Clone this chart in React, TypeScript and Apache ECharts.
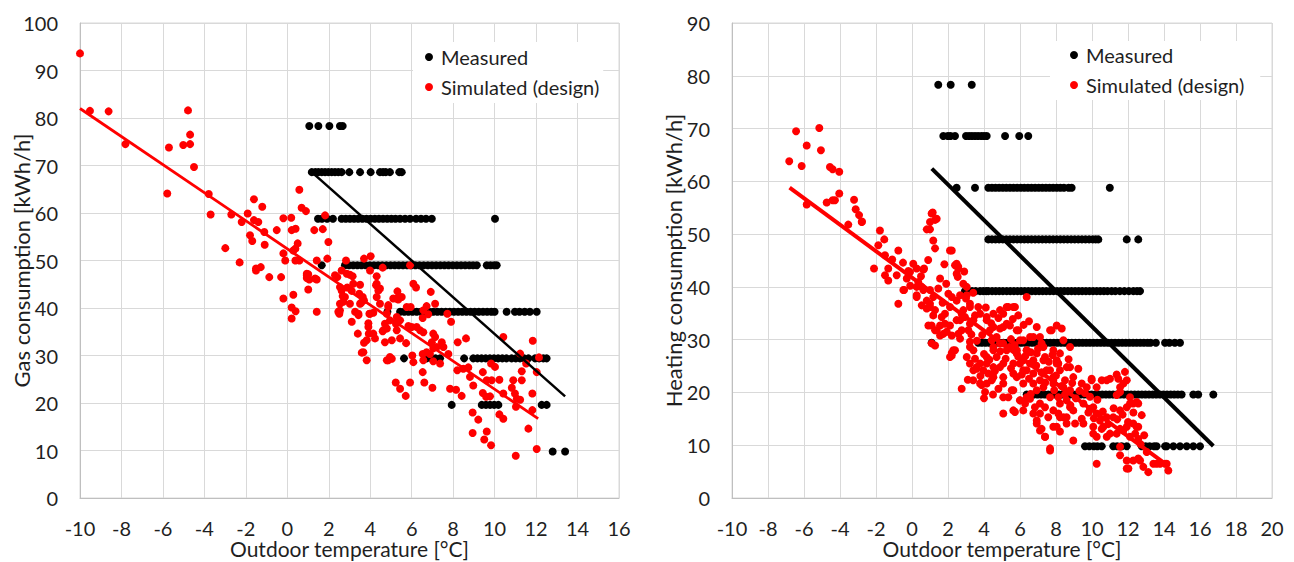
import React, { useEffect, useRef } from "react";
import * as echarts from "echarts";

const FONT = "Lato, 'Open Sans', sans-serif";

// Measured consumption levels (kWh/h) – measured data fall on discrete steps
const LEVELS = [78.3, 68.6, 58.8, 49.0, 39.2, 29.4, 19.6, 9.8];

// ---------- Left chart: Gas consumption ----------
const gasMeasuredTemps: number[][] = [
  [1.06, 1.5, 2.03, 2.54, 2.67],
  [1.18, 1.35, 1.5, 1.66, 1.82, 1.98, 2.14, 2.3, 2.46, 2.62, 2.99, 3.51, 4.02, 4.47, 4.62, 4.75, 4.95, 5.4, 5.52],
  [1.48, 1.67, 1.92, 2.2, 2.62, 2.82, 3.02, 3.22, 3.42, 3.62, 3.82, 4.02, 4.22, 4.42, 4.62, 4.82, 5.02, 5.22, 5.44, 5.68, 5.92, 6.21, 6.45, 6.69, 6.97, 10.02],
  [1.66, 2.78, 2.98, 3.18, 3.38, 3.58, 3.78, 3.98, 4.18, 4.38, 4.58, 4.78, 4.98, 5.18, 5.38, 5.58, 5.78, 5.98, 6.18, 6.38, 6.58, 6.78, 6.98, 7.18, 7.38, 7.58, 7.78, 7.98, 8.18, 8.38, 8.58, 8.78, 8.96, 9.14, 9.62, 9.8, 9.98, 10.1],
  [4.83, 5.44, 5.64, 5.84, 6.04, 6.24, 6.44, 6.64, 6.84, 7.04, 7.24, 7.44, 7.64, 7.84, 8.04, 8.24, 8.44, 8.64, 8.84, 9.04, 9.24, 9.44, 9.64, 9.84, 10.0, 10.58, 10.98, 11.2, 11.45, 11.7, 12.03],
  [5.63, 6.72, 6.95, 7.15, 7.37, 8.53, 8.97, 9.17, 9.37, 9.57, 9.77, 9.97, 10.17, 10.37, 10.57, 10.82, 11.02, 11.22, 11.42, 11.63, 11.95, 12.15, 12.35, 12.51],
  [7.93, 9.38, 9.58, 9.78, 9.98, 10.18, 12.27, 12.51],
  [12.8, 13.4],
];

const gasSimulated: number[][] = [
  [-10.0, 93.6], [-9.52, 81.5], [-8.62, 81.4], [-7.81, 74.5], [-5.71, 73.8], [-5.79, 64.1], [-5.02, 74.3], [-4.79, 81.6],
  [-4.69, 76.5], [-4.69, 74.5], [-4.5, 69.7], [-3.79, 64.0], [-3.7, 59.7], [-2.7, 59.7], [-2.99, 52.6], [-2.2, 58.1],
  [-1.91, 59.9], [-2.3, 49.6], [-1.61, 62.9], [-1.21, 61.3], [-1.8, 55.3], [-1.69, 54.1], [-1.61, 58.5], [-1.4, 58.1],
  [-1.11, 56.0], [-1.09, 53.3], [-1.51, 48.3], [-1.28, 48.6], [-0.51, 56.4], [-0.19, 58.9], [-0.19, 51.5], [-0.1, 50.0],
  [0.19, 59.0], [0.21, 56.4], [0.4, 56.7], [0.58, 64.9], [0.69, 61.1], [0.9, 60.4], [0.39, 52.5], [0.5, 53.6],
  [0.39, 50.0], [0.58, 50.0], [1.3, 56.4], [1.71, 56.6], [1.82, 59.5], [1.42, 50.0], [1.93, 50.4], [1.98, 53.9],
  [0.94, 47.2], [-0.87, 46.5], [-0.3, 46.5], [-1.51, 47.9], [1.01, 47.1], [1.06, 46.0], [1.42, 46.0], [-0.19, 42.0],
  [0.29, 42.8], [0.21, 40.1], [0.4, 39.3], [0.21, 37.8], [1.01, 43.9], [1.42, 39.2], [0.29, 52.1], [0.94, 46.3],
  [2.41, 46.5], [2.62, 47.9], [2.83, 50.0], [2.87, 47.2], [3.02, 47.0], [3.15, 46.7], [2.62, 43.7], [2.67, 42.5],
  [2.7, 41.3], [2.54, 39.5], [2.51, 38.8], [2.89, 44.3], [3.11, 43.6], [3.02, 40.9], [3.11, 37.1], [3.27, 39.2],
  [3.43, 38.5], [3.4, 34.6], [3.51, 44.9], [3.47, 43.0], [3.64, 42.3], [3.56, 41.1], [3.7, 41.6], [3.59, 30.6],
  [3.83, 29.0], [3.7, 32.7], [3.83, 33.2], [3.93, 34.6], [4.15, 34.6], [4.23, 33.6], [3.7, 50.4], [4.02, 50.9],
  [3.99, 47.9], [4.31, 46.7], [4.28, 44.8], [4.39, 43.7], [4.31, 42.3], [4.47, 44.1], [3.96, 38.8], [3.91, 36.8],
  [4.15, 39.0], [4.6, 48.5], [4.71, 36.7], [4.6, 35.1], [4.71, 32.8], [4.8, 29.0], [4.8, 38.8],
  [5.92, 49.0], [6.08, 45.1], [6.21, 44.3], [6.92, 43.4], [7.13, 40.9], [6.72, 40.4], [6.56, 39.5], [5.31, 43.5],
  [5.11, 42.0], [5.35, 41.8], [5.52, 42.3], [4.87, 40.6], [5.76, 40.2], [5.95, 40.2], [6.8, 38.7], [6.53, 37.9],
  [7.72, 38.8], [7.9, 37.1], [5.28, 38.1], [5.24, 36.7], [5.44, 37.4], [4.63, 35.3], [5.84, 36.2], [6.0, 36.0],
  [6.24, 36.0], [6.4, 35.3], [6.56, 34.9], [7.04, 34.6], [7.13, 33.9], [6.97, 32.8], [7.04, 31.5], [7.45, 32.8],
  [7.53, 31.8], [8.22, 32.8], [8.62, 33.6], [5.04, 33.2], [5.44, 33.6], [5.73, 32.6], [4.95, 29.7], [6.03, 30.0],
  [6.08, 28.6], [6.53, 30.3], [6.72, 30.7], [6.88, 30.3], [7.21, 31.8], [6.56, 29.0], [7.37, 28.3], [7.77, 30.3],
  [8.2, 26.9], [8.49, 27.2], [8.73, 27.5], [6.53, 26.5], [7.04, 28.8], [8.81, 25.5], [8.97, 23.7], [9.43, 26.5],
  [9.83, 28.3], [10.02, 27.6], [9.62, 24.8], [9.86, 24.8], [10.23, 24.9], [7.85, 23.0], [8.14, 22.8], [8.41, 21.5],
  [9.43, 22.1], [9.59, 21.3], [9.78, 21.4], [10.42, 22.0], [10.83, 23.2], [10.9, 24.8], [11.31, 24.8], [10.98, 22.0],
  [11.07, 20.9], [11.23, 20.7], [11.03, 19.2], [11.82, 22.0], [10.42, 33.9], [11.23, 30.4], [11.52, 28.3], [11.84, 33.1],
  [12.14, 29.6], [12.03, 26.5], [11.31, 26.7], [5.23, 24.3], [5.44, 23.0], [5.71, 21.5], [5.92, 24.3], [6.61, 24.3],
  [7.0, 23.2], [8.94, 18.0], [9.21, 16.5], [10.23, 17.6], [10.42, 16.7], [11.82, 18.5], [8.94, 13.7], [9.62, 14.0],
  [9.5, 12.3], [9.83, 11.1], [11.63, 14.6], [11.02, 8.9], [12.03, 10.3], [2.46, 39.2], [3.67, 30.7], [4.87, 29.0],
  [5.04, 29.3], [0.94, 46.9], [1.34, 46.2], [2.3, 46.9], [2.54, 44.4], [2.78, 42.3], [2.54, 40.9], [3.18, 45.1],
  [3.51, 40.9], [3.43, 38.8], [3.91, 36.0], [3.99, 38.8], [4.31, 45.1], [4.47, 40.9], [4.87, 40.2], [4.95, 37.4],
  [4.8, 35.7], [5.28, 42.0], [5.28, 35.3],
];

const gasMeasuredTrend = [[1.18, 68.6], [13.4, 21.4]];
const gasSimulatedTrend = [[-10.0, 82.0], [12.1, 16.7]];

// ---------- Right chart: Heating consumption ----------
const heatMeasuredTemps: number[][] = [
  [1.46, 2.15, 3.32],
  [1.74, 1.99, 2.14, 2.39, 3.0, 3.17, 3.33, 3.5, 3.67, 3.85, 4.0, 4.15, 5.17, 5.96, 6.46],
  [2.48, 3.5, 4.24, 4.44, 4.64, 4.84, 5.04, 5.24, 5.44, 5.64, 5.84, 6.04, 6.24, 6.44, 6.64, 6.84, 7.04, 7.24, 7.44, 7.64, 7.84, 8.04, 8.24, 8.44, 8.7, 8.87, 10.99],
  [4.24, 4.44, 4.64, 4.84, 5.04, 5.24, 5.44, 5.64, 5.84, 6.04, 6.24, 6.44, 6.64, 6.84, 7.04, 7.24, 7.44, 7.64, 7.84, 8.04, 8.24, 8.44, 8.64, 8.84, 9.04, 9.24, 9.44, 9.64, 9.84, 10.04, 10.2, 10.35, 11.93, 12.57],
  [2.94, 3.14, 3.34, 3.54, 3.78, 3.96, 4.12, 4.24, 4.45, 4.65, 4.85, 5.05, 5.26, 5.46, 5.66, 5.86, 6.06, 6.26, 6.46, 6.66, 6.86, 7.06, 7.26, 7.46, 7.66, 7.86, 8.06, 8.26, 8.46, 8.66, 8.86, 9.06, 9.26, 9.46, 9.66, 9.86, 10.06, 10.26, 10.46, 10.66, 10.86, 11.09, 11.3, 11.55, 11.8, 12.05, 12.3, 12.5, 12.67],
  [1.09, 3.68, 3.88, 4.08, 4.28, 4.48, 4.68, 4.88, 5.08, 5.28, 5.48, 5.68, 5.88, 6.08, 6.28, 6.48, 6.68, 6.88, 7.08, 7.28, 7.48, 7.68, 7.88, 8.08, 8.28, 8.48, 8.68, 8.88, 9.08, 9.28, 9.48, 9.68, 9.88, 10.08, 10.28, 10.48, 10.68, 10.88, 11.08, 11.28, 11.48, 11.68, 11.88, 12.08, 12.28, 12.48, 12.68, 12.88, 13.08, 13.25, 13.55, 14.06, 14.3, 14.6, 14.89],
  [6.37, 6.57, 6.77, 6.97, 7.17, 7.37, 7.57, 7.77, 7.97, 8.17, 8.37, 8.57, 8.77, 8.97, 9.17, 9.37, 9.57, 9.77, 9.97, 10.17, 10.37, 10.57, 10.77, 10.97, 11.17, 11.37, 11.57, 11.77, 11.97, 12.17, 12.37, 12.57, 12.77, 12.97, 13.17, 13.37, 13.57, 13.77, 13.97, 14.17, 14.37, 14.57, 14.77, 14.98, 15.63, 15.9, 16.74],
  [9.61, 9.85, 10.1, 10.3, 10.54, 11.18, 11.4, 11.65, 11.93, 12.76, 12.98, 13.2, 13.45, 13.59, 14.06, 14.15, 14.52, 14.89, 15.26, 15.63, 16.0],
];

const heatSimulated: number[][] = [
  [-6.82, 63.8], [-6.44, 69.5], [-6.13, 62.9], [-5.85, 66.8], [-5.85, 55.6], [-5.15, 70.1], [-5.06, 65.9], [-4.56, 62.7],
  [-4.41, 62.3], [-4.04, 61.8], [-4.74, 56.0], [-4.41, 56.4], [-4.28, 56.4], [-4.04, 57.7], [-3.22, 56.5], [-3.13, 54.7],
  [-2.94, 53.6], [-2.78, 52.4], [-3.54, 51.8], [-1.78, 50.7], [-1.54, 49.0], [-1.87, 47.9], [-0.76, 46.9], [-1.5, 46.0],
  [-2.11, 43.5], [-1.32, 43.5], [-0.85, 42.2], [0.07, 44.4], [0.26, 43.5], [0.67, 43.5], [-0.2, 43.0], [1.15, 54.1],
  [1.28, 52.7], [1.0, 50.9], [1.18, 48.8], [1.28, 47.3], [0.82, 50.9], [2.21, 46.9], [2.39, 44.1], [2.57, 43.8],
  [2.48, 42.5], [-2.79, 52.3], [-1.5, 42.2], [-1.32, 41.2], [-0.48, 39.4], [-0.76, 36.8], [-0.29, 41.6], [-0.11, 42.8],
  [0.63, 43.3], [0.35, 40.9], [0.54, 40.0], [0.26, 38.4], [0.54, 36.5], [0.82, 37.4], [1.0, 39.4], [1.18, 38.1],
  [1.46, 39.7], [1.56, 41.6], [1.0, 52.3], [1.09, 53.9], [1.37, 52.9], [1.0, 36.2], [1.28, 35.6], [1.09, 32.7],
  [1.37, 31.8], [1.56, 32.7], [1.65, 34.3], [1.83, 34.9], [2.11, 36.2], [2.02, 38.7], [2.21, 38.1], [2.48, 37.4],
  [2.11, 46.9], [2.48, 44.4], [2.57, 43.5], [2.54, 41.9], [2.67, 38.4], [3.04, 40.0], [3.22, 36.8], [2.85, 35.6],
  [1.83, 33.0], [1.93, 31.5], [1.56, 30.8], [2.67, 33.7], [2.94, 34.3], [3.22, 33.0], [3.5, 34.6], [3.68, 36.2],
  [2.57, 31.1], [2.67, 30.2], [3.13, 31.8], [3.22, 29.6], [2.29, 28.0], [2.11, 26.7], [2.21, 27.5], [3.04, 26.7],
  [3.22, 25.5], [3.59, 24.5], [3.41, 28.0], [2.76, 20.7], [3.87, 21.4], [4.06, 20.1], [4.15, 34.3], [4.33, 31.8],
  [4.43, 29.9], [4.52, 28.0], [4.15, 25.5], [4.24, 23.6], [4.43, 22.3], [4.7, 26.7], [4.89, 24.8], [4.7, 30.5],
  [4.89, 32.1], [5.07, 29.3], [5.26, 28.0], [5.07, 34.9], [5.35, 36.2], [5.72, 36.2], [5.26, 33.0], [5.07, 21.7],
  [4.8, 20.7], [5.54, 20.4], [5.35, 19.1], [5.07, 16.0], [5.72, 16.3], [6.37, 38.1], [5.91, 31.8], [6.18, 29.9],
  [5.82, 27.4], [6.0, 25.5], [6.37, 28.0], [6.56, 25.5], [6.74, 30.5], [6.93, 32.4], [7.2, 29.3], [7.39, 26.7],
  [7.48, 24.2], [7.11, 22.3], [6.74, 21.7], [6.37, 24.2], [6.18, 21.7], [5.82, 22.9], [6.0, 18.5], [6.28, 17.9],
  [6.56, 18.8], [6.83, 17.2], [7.11, 16.0], [7.39, 17.2], [7.57, 15.3], [6.93, 14.7], [7.2, 13.1], [7.39, 11.6],
  [7.67, 9.4], [7.76, 31.8], [8.04, 32.7], [7.85, 28.0], [8.13, 25.5], [7.85, 22.3], [8.13, 19.1], [7.85, 16.6],
  [-0.44, 39.4], [0.26, 40.0], [0.63, 39.4], [0.26, 38.1], [1.0, 36.8], [0.82, 35.9], [1.18, 34.6], [0.91, 32.7],
  [1.28, 31.8], [1.74, 31.1], [2.11, 32.7], [2.21, 30.8], [2.48, 33.7], [2.76, 31.8], [1.28, 28.9], [2.21, 27.0],
  [2.39, 28.0], [3.22, 28.6], [3.5, 26.4], [3.59, 24.8], [3.78, 21.7], [1.09, 29.3],
  [2.85, 40.6], [3.04, 38.4], [3.22, 36.2], [2.76, 34.9], [3.41, 33.7], [3.78, 34.9], [4.15, 33.7], [4.52, 34.9],
  [4.89, 35.6], [5.26, 36.2], [5.63, 36.2], [4.52, 32.4], [5.07, 32.4], [5.44, 32.7], [5.82, 31.8], [6.0, 29.9],
  [6.56, 30.5], [7.11, 30.5], [7.3, 28.6], [6.93, 27.4], [6.37, 28.0], [5.82, 28.0], [5.44, 28.6], [4.89, 29.3],
  [4.52, 28.6], [4.15, 26.7], [3.78, 25.5], [3.41, 24.2], [3.96, 24.2], [4.52, 24.8], [5.07, 25.5], [5.63, 25.5],
  [6.18, 26.1], [6.74, 26.1], [7.3, 26.1], [7.67, 24.2], [7.3, 23.6], [6.74, 23.6], [6.18, 24.2], [5.63, 23.6],
  [5.07, 22.9], [4.52, 22.9], [4.15, 21.7], [5.07, 19.1], [5.63, 20.4], [6.0, 18.5], [6.37, 19.1], [6.93, 20.4],
  [7.3, 21.0], [7.85, 21.7], [7.11, 17.9], [7.67, 19.1], [6.93, 14.1], [7.11, 12.8], [7.39, 11.6], [7.67, 9.0],
  [8.04, 13.5], [8.22, 15.3], [8.59, 14.1], [6.74, 16.0], [6.18, 16.6], [5.63, 16.6],
  [8.32, 32.1], [7.67, 31.8], [8.41, 29.9], [8.78, 28.6], [8.6, 24.8], [9.24, 24.5], [8.96, 22.9], [8.5, 22.3],
  [8.22, 27.4], [8.04, 25.5], [7.85, 22.9], [8.41, 21.0], [8.78, 20.4], [8.59, 18.5], [8.22, 17.9], [8.13, 16.0],
  [8.59, 15.3], [8.96, 16.6], [9.06, 14.1], [9.43, 15.0], [9.52, 17.9], [9.89, 19.2], [9.71, 21.0], [9.98, 22.3],
  [10.26, 21.0], [10.54, 22.3], [10.82, 22.3], [11.46, 22.6], [11.83, 23.9], [11.74, 21.7], [11.56, 20.1], [11.37, 19.5],
  [10.07, 17.2], [10.26, 16.0], [10.07, 13.5], [10.63, 13.5], [10.82, 15.3], [11.18, 15.3], [11.56, 16.6], [11.93, 17.2],
  [12.11, 17.9], [12.29, 17.9], [12.48, 18.2], [12.76, 15.7], [12.57, 13.5], [12.29, 14.1], [11.93, 13.5], [11.56, 13.1],
  [11.37, 12.2], [10.82, 11.6], [10.26, 11.6], [10.26, 6.5], [11.56, 9.7], [11.93, 7.1], [12.02, 5.6], [12.29, 7.1],
  [12.67, 7.1], [12.85, 5.9], [13.13, 4.9], [13.41, 6.5], [13.78, 6.5], [14.15, 6.5], [14.24, 5.2], [13.04, 8.7],
  [8.04, 26.1], [8.22, 24.2], [8.78, 24.8], [9.43, 21.7], [9.98, 22.6], [11.0, 22.6], [11.37, 23.4], [11.93, 22.3],
  [11.56, 21.0], [12.11, 19.1], [12.57, 17.9], [12.48, 13.5], [12.57, 11.2], [12.11, 11.6], [11.74, 12.8], [11.0, 12.2],
  [10.54, 13.1], [10.07, 12.2], [10.44, 14.7], [9.89, 16.9], [9.52, 14.1], [8.96, 10.9], [8.22, 12.6], [7.85, 13.5],
  [8.41, 15.3], [8.78, 17.2], [11.93, 5.6], [13.59, 6.5], [12.57, 7.5], [11.56, 8.1], [14.06, 6.5],
  [3.3, 31.0], [3.6, 29.8], [3.9, 30.9], [4.0, 27.3], [4.3, 26.2], [3.8, 23.1], [4.6, 24.0], [4.9, 27.8],
  [5.2, 26.4], [5.5, 24.6], [5.5, 30.1], [5.7, 29.0], [5.9, 26.8], [6.1, 23.4], [6.3, 26.9], [6.5, 22.6],
  [6.6, 27.6], [6.9, 25.1], [7.0, 28.3], [7.2, 23.8], [7.4, 21.9], [7.6, 25.8], [7.8, 27.1], [8.0, 23.2],
  [8.3, 21.2], [8.5, 19.6], [8.7, 26.3], [8.9, 21.8], [9.1, 18.9], [9.3, 20.3], [9.6, 19.9], [9.8, 16.2],
  [10.1, 15.1], [10.3, 18.6], [10.6, 16.4], [10.9, 14.0], [11.2, 17.0], [11.4, 14.9], [11.7, 15.8], [12.0, 14.4],
  [12.3, 16.2], [12.4, 12.2], [12.7, 10.2], [12.9, 11.9], [4.1, 36.1], [4.4, 33.1], [4.8, 34.1], [5.6, 33.9],
  [5.9, 34.6], [6.2, 32.8], [6.5, 33.5], [3.0, 37.8], [3.4, 38.9], [1.7, 37.0], [1.9, 40.6], [0.5, 42.0],
  [-0.1, 40.2], [-0.5, 44.6], [-1.1, 45.2], [0.9, 45.1], [1.8, 44.3], [2.9, 42.9], [3.1, 22.4], [3.4, 22.3],
  [4.0, 18.9], [4.5, 19.6], [6.6, 19.7], [7.9, 20.4], [8.8, 17.6],
];

const heatMeasuredTrend = [[1.1, 62.4], [16.74, 9.85]];
const heatSimulatedTrend = [[-6.8, 58.8], [14.06, 6.5]];

const GAS_Y_TITLE = "Gas consumption [kWh/h]";
const HEAT_Y_TITLE = "Heating consumption [kWh/h]";
const X_TITLE = "Outdoor temperature [°C]";
const MEASURED = "Measured";
const SIMULATED = "Simulated (design)";

function bandsToPoints(temps: number[][]): number[][] {
  const pts: number[][] = [];
  temps.forEach((row, i) => row.forEach((t) => pts.push([t, LEVELS[i]])));
  return pts;
}

const GRID_COLOR = "#d9d9d9";
const AXIS_COLOR = "#bfbfbf";
const TEXT_COLOR = "#1f1f1f";

function xAxis(gridIndex: number, max: number) {
  return {
    type: "value",
    gridIndex,
    min: -10,
    max,
    interval: 2,
    axisLine: { show: true, onZero: false, lineStyle: { color: AXIS_COLOR, width: 1 } },
    axisTick: { show: false },
    splitLine: { show: true, lineStyle: { color: GRID_COLOR, width: 1 } },
    axisLabel: { color: TEXT_COLOR, fontFamily: FONT, fontSize: 20, lineHeight: 16, margin: 22 },
    name: X_TITLE,
    nameLocation: "middle",
    nameGap: 39,
    nameMoveOverlap: false,
    nameTextStyle: { color: TEXT_COLOR, fontFamily: FONT, fontSize: 21, lineHeight: 22 },
  };
}

function yAxis(gridIndex: number, max: number, title: string) {
  return {
    type: "value",
    gridIndex,
    min: 0,
    max,
    interval: 10,
    axisLine: { show: true, onZero: false, lineStyle: { color: AXIS_COLOR, width: 1 } },
    axisTick: { show: false },
    splitLine: { show: true, lineStyle: { color: GRID_COLOR, width: 1 } },
    axisLabel: { color: TEXT_COLOR, fontFamily: FONT, fontSize: 20, margin: 22 },
    name: title,
    nameLocation: "middle",
    nameGap: 48,
    nameMoveOverlap: false,
    nameTextStyle: { color: TEXT_COLOR, fontFamily: FONT, fontSize: 22 },
  };
}

function legend(left: number, top: number, padding: number[]) {
  return {
    orient: "vertical",
    left,
    top,
    padding,
    backgroundColor: "#ffffff",
    itemWidth: 14,
    itemHeight: 8,
    itemGap: 10,
    selectedMode: false,
    textStyle: { color: TEXT_COLOR, fontFamily: FONT, fontSize: 20, lineHeight: 20 },
    data: [
      { name: MEASURED, icon: "circle" },
      { name: SIMULATED, icon: "circle" },
    ],
  };
}

function scatter(name: string, idx: number, data: number[][], color: string) {
  return {
    type: "scatter",
    name,
    xAxisIndex: idx,
    yAxisIndex: idx,
    data,
    symbol: "circle",
    symbolSize: 8,
    itemStyle: { color, opacity: 1 },
    emphasis: { disabled: true },
    z: 2,
  };
}

function trend(name: string, idx: number, data: number[][], color: string, width: number) {
  return {
    type: "line",
    name,
    xAxisIndex: idx,
    yAxisIndex: idx,
    data,
    symbol: "none",
    lineStyle: { color, width },
    itemStyle: { color },
    emphasis: { disabled: true },
    z: 3,
  };
}

export default function App() {
  const ref = useRef<HTMLDivElement>(null);
  useEffect(() => {
    if (!ref.current) return;
    const chart = echarts.init(ref.current, null, { renderer: "svg" });
    chart.setOption({
      animation: false,
      backgroundColor: "#ffffff",
      textStyle: { fontFamily: FONT },
      grid: [
        { left: 80, top: 23, width: 539, height: 475, show: true, borderColor: GRID_COLOR, borderWidth: 1, outerBoundsMode: "none", containLabel: false },
        { left: 732, top: 23, width: 540, height: 475, show: true, borderColor: GRID_COLOR, borderWidth: 1, outerBoundsMode: "none", containLabel: false },
      ],
      xAxis: [xAxis(0, 16), xAxis(1, 20)],
      yAxis: [yAxis(0, 100, GAS_Y_TITLE), yAxis(1, 90, HEAT_Y_TITLE)],
      legend: [legend(413, 42, [5, 4, 6, 12]), legend(1050, 41, [4, 16, 5, 20])],
      series: [
        scatter(MEASURED, 0, bandsToPoints(gasMeasuredTemps), "#000000"),
        scatter(SIMULATED, 0, gasSimulated, "#ff0000"),
        trend("Measured trend (gas)", 0, gasMeasuredTrend, "#000000", 2.5),
        trend("Simulated trend (gas)", 0, gasSimulatedTrend, "#ff0000", 2.8),
        scatter(MEASURED, 1, bandsToPoints(heatMeasuredTemps), "#000000"),
        scatter(SIMULATED, 1, heatSimulated, "#ff0000"),
        trend("Measured trend (heating)", 1, heatMeasuredTrend, "#000000", 4),
        trend("Simulated trend (heating)", 1, heatSimulatedTrend, "#ff0000", 4),
      ],
    });
    return () => chart.dispose();
  }, []);
  return (
    <div
      ref={ref}
      style={{ position: "fixed", left: 0, top: 0, width: 1294, height: 562, background: "#ffffff" }}
    />
  );
}
